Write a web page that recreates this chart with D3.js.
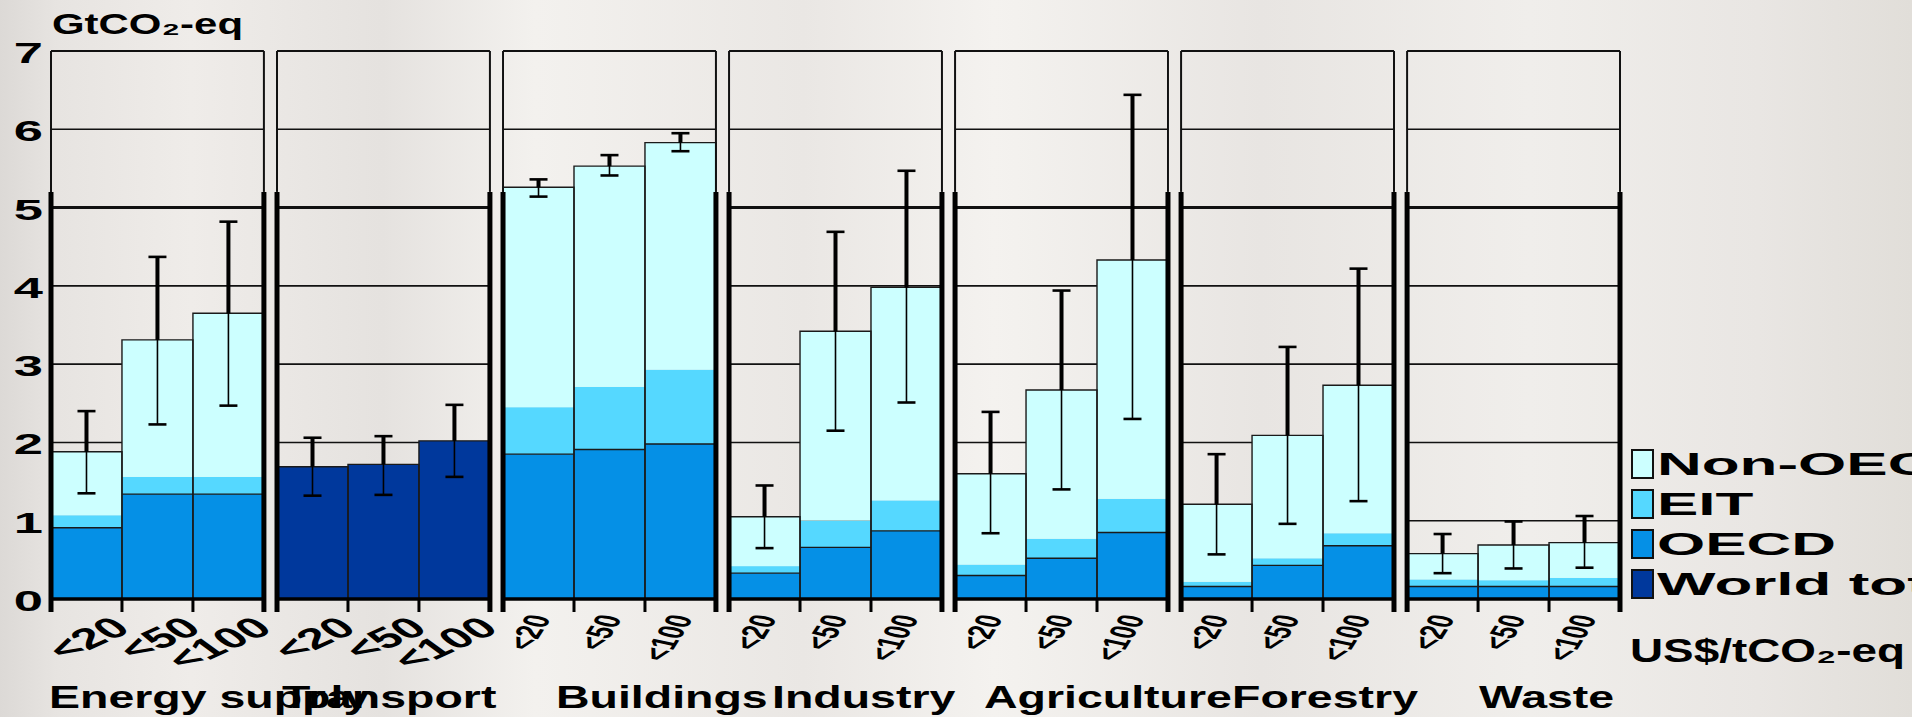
<!DOCTYPE html>
<html>
<head>
<meta charset="utf-8">
<script src="https://cdn.jsdelivr.net/npm/d3@7"></script>
<style>
  html, body { margin: 0; padding: 0; background: #ebe8e5; overflow: hidden; }
  svg { display: block; }
  text { font-family: "Liberation Sans", Arial, sans-serif; font-weight: bold; fill: #000; }
</style>
</head>
<body>
<svg width="1912" height="717"></svg>
<script>
const sectors = ["Energy supply", "Transport", "Buildings", "Industry", "Agriculture", "Forestry", "Waste"];
const costLabels = ["<20", "<50", "<100"];

// GtCO2-eq per sector, one value per cost class
const oecd       = [[0.91, 1.34, 1.34], [0, 0, 0], [1.85, 1.91, 1.98], [0.33, 0.66, 0.87], [0.30, 0.52, 0.85], [0.16, 0.43, 0.68], [0.16, 0.16, 0.16]];
const eit        = [[0.16, 0.22, 0.22], [0, 0, 0], [0.60, 0.80, 0.95], [0.09, 0.34, 0.39], [0.14, 0.25, 0.43], [0.06, 0.09, 0.16], [0.09, 0.08, 0.11]];
const nonOecd    = [[0.81, 1.75, 2.09], [0, 0, 0], [2.81, 2.82, 2.90], [0.63, 2.42, 2.72], [1.16, 1.90, 3.05], [0.99, 1.57, 1.89], [0.33, 0.45, 0.45]];
const worldTotal = [[0, 0, 0], [1.69, 1.72, 2.02], [0, 0, 0], [0, 0, 0], [0, 0, 0], [0, 0, 0], [0, 0, 0]];
const errLow     = [[1.35, 2.23, 2.47], [1.32, 1.33, 1.56], [5.14, 5.41, 5.72], [0.65, 2.15, 2.51], [0.84, 1.40, 2.30], [0.57, 0.96, 1.25], [0.33, 0.39, 0.40]];
const errHigh    = [[2.40, 4.37, 4.82], [2.06, 2.08, 2.48], [5.36, 5.67, 5.95], [1.45, 4.69, 5.47], [2.39, 3.94, 6.44], [1.85, 3.22, 4.22], [0.83, 0.99, 1.06]];

const legendLabels = ["Non-OECD/EIT", "EIT", "OECD", "World total"];
const yTicks = [0, 1, 2, 3, 4, 5, 6, 7];

const keys = ["world", "oecd", "eit", "nonOecd"];
const color = d3.scaleOrdinal().domain(keys).range(["#00389c", "#0590e6", "#55d8ff", "#ccffff"]);

const rows = sectors.flatMap((s, i) => costLabels.map((c, j) => ({
  sector: s, cost: c,
  world: worldTotal[i][j], oecd: oecd[i][j], eit: eit[i][j], nonOecd: nonOecd[i][j],
  lo: errLow[i][j], hi: errHigh[i][j]
})));
rows.forEach(d => d.total = d.world + d.oecd + d.eit + d.nonOecd);

const svg = d3.select("svg");
const stretch = 1.75;   // the picture's type is drawn wide

// scanned-looking paper background
const grad = svg.append("defs").append("linearGradient").attr("id", "paper");
[["0", "#dcd9d6"], ["0.03", "#e7e4e1"], ["0.1", "#efece9"], ["0.2", "#e5e2df"], ["0.28", "#f3f1ee"],
 ["0.42", "#eae7e4"], ["0.52", "#f4f2ef"], ["0.66", "#e8e5e2"], ["0.8", "#f0eeeb"], ["0.92", "#e9e6e3"], ["1", "#e1ded9"]]
  .forEach(([o, c]) => grad.append("stop").attr("offset", o).attr("stop-color", c));
svg.append("rect").attr("width", 1912).attr("height", 717).attr("fill", "url(#paper)");

const x = d3.scaleBand().domain(sectors).range([51, 1620]).paddingInner(0.058);
const sub = d3.scaleBand().domain(costLabels).range([0, x.bandwidth()]);
const y = d3.scaleLinear().domain([0, 7]).range([599, 51]);
const bw = sub.bandwidth();

const stacked = d3.stack().keys(keys)(rows);

// y axis labels
svg.append("g")
  .attr("transform", "translate(46,0)")
  .call(d3.axisLeft(y).tickValues(yTicks).tickSize(0).tickFormat(d3.format("d")))
  .call(g => g.select(".domain").remove())
  .selectAll("text")
  .attr("x", 0).attr("dy", null)
  .attr("dominant-baseline", "central")
  .attr("text-anchor", "end")
  .attr("transform", `translate(-3,1) scale(${stretch},1)`)
  .style("font-size", "30px");

const panels = svg.selectAll(".panel")
  .data(sectors)
  .join("g")
  .attr("class", "panel")
  .attr("transform", d => `translate(${x(d)},0)`);

// grid lines
panels.selectAll(".grid")
  .data(yTicks.filter(v => v > 0 && v < 7))
  .join("line")
  .attr("x1", 0).attr("x2", x.bandwidth())
  .attr("y1", d => y(d)).attr("y2", d => y(d))
  .attr("stroke", "#111")
  .attr("stroke-width", d => d === 5 ? 3 : 1.6);

// stacked bars
stacked.forEach(layer => {
  panels.selectAll(`.seg-${layer.key}`)
    .data(s => layer.filter(p => p.data.sector === s && p[1] - p[0] > 0))
    .join("rect")
    .attr("class", `seg-${layer.key}`)
    .attr("x", p => sub(p.data.cost))
    .attr("width", bw)
    .attr("y", p => y(p[1]))
    .attr("height", p => y(p[0]) - y(p[1]))
    .attr("fill", color(layer.key));
});

const panelRows = s => rows.filter(d => d.sector === s);

// bar outlines and OECD top edge
panels.selectAll(".outline")
  .data(panelRows)
  .join("path")
  .attr("fill", "none")
  .attr("stroke", "#1a1a1a")
  .attr("stroke-width", 1.4)
  .attr("d", d => `M${sub(d.cost)},${y(0)}V${y(d.total)}H${sub(d.cost) + bw}V${y(0)}`);

panels.selectAll(".oecdTop")
  .data(s => panelRows(s).filter(d => d.oecd > 0))
  .join("line")
  .attr("x1", d => sub(d.cost)).attr("x2", d => sub(d.cost) + bw)
  .attr("y1", d => y(d.oecd)).attr("y2", d => y(d.oecd))
  .attr("stroke", "#1a1a1a").attr("stroke-width", 1.4);

// error bars
const err = panels.selectAll(".err")
  .data(panelRows)
  .join("g")
  .attr("transform", d => `translate(${sub(d.cost) + bw / 2},0)`);
err.append("line")
  .attr("y1", d => y(d.lo)).attr("y2", d => y(d.hi))
  .attr("stroke", "#000").attr("stroke-width", 1.6);
err.filter(d => d.hi > d.total).append("line")
  .attr("y1", d => y(Math.max(d.total, d.lo))).attr("y2", d => y(d.hi))
  .attr("stroke", "#000").attr("stroke-width", 4);
err.selectAll(".cap")
  .data(d => [d.lo, d.hi])
  .join("line")
  .attr("x1", -9).attr("x2", 9)
  .attr("y1", v => y(v)).attr("y2", v => y(v))
  .attr("stroke", "#000").attr("stroke-width", 2.6);

// panel frame
panels.append("line")
  .attr("x1", 0).attr("x2", x.bandwidth())
  .attr("y1", y(7)).attr("y2", y(7))
  .attr("stroke", "#111").attr("stroke-width", 1.8);
panels.append("line")
  .attr("x1", 0).attr("x2", x.bandwidth())
  .attr("y1", y(0)).attr("y2", y(0))
  .attr("stroke", "#000").attr("stroke-width", 3.5);
panels.selectAll(".edgeThin")
  .data([0, x.bandwidth()])
  .join("line")
  .attr("x1", d => d).attr("x2", d => d)
  .attr("y1", y(7)).attr("y2", y(5.2))
  .attr("stroke", "#111").attr("stroke-width", 2);
panels.selectAll(".edgeThick")
  .data([0, x.bandwidth()])
  .join("line")
  .attr("x1", d => d).attr("x2", d => d)
  .attr("y1", y(5.2)).attr("y2", y(0) + 13)
  .attr("stroke", "#000").attr("stroke-width", 5);
panels.selectAll(".tick-mark")
  .data([bw, 2 * bw])
  .join("line")
  .attr("x1", d => d).attr("x2", d => d)
  .attr("y1", y(0)).attr("y2", y(0) + 13)
  .attr("stroke", "#000").attr("stroke-width", 3);

// cost class labels
panels.append("g")
  .attr("transform", `translate(0,${y(0)})`)
  .each(function (s, i) {
    const big = i < 2;
    d3.select(this)
      .call(d3.axisBottom(sub).tickSize(0))
      .call(g => g.select(".domain").remove())
      .selectAll("text")
      .attr("y", 0).attr("dy", null)
      .attr("text-anchor", "end")
      .attr("transform", big
        ? `translate(46,32) scale(${stretch},1) rotate(-38)`
        : `translate(13,19) scale(${stretch},1) rotate(-70)`)
      .style("font-size", big ? "29px" : "21px");
  });

// sector names
const nameX = [49, 282, 556, 772, 984, 1232, 1479];
svg.selectAll(".sector-name")
  .data(sectors)
  .join("text")
  .attr("class", "sector-name")
  .attr("transform", (d, i) => `translate(${nameX[i]},708) scale(1.5,1)`)
  .style("font-size", "31px")
  .text(d => d);

// unit title
svg.append("text")
  .attr("x", 52).attr("y", 34)
  .attr("textLength", 191).attr("lengthAdjust", "spacingAndGlyphs")
  .style("font-size", "30px")
  .text("GtCO₂-eq");

// legend
const legend = svg.selectAll(".legend")
  .data(legendLabels)
  .join("g")
  .attr("class", "legend")
  .attr("transform", (d, i) => `translate(1632,${464 + i * 40})`);
legend.append("rect")
  .attr("x", 0).attr("y", -14).attr("width", 21).attr("height", 28)
  .attr("fill", (d, i) => color(["nonOecd", "eit", "oecd", "world"][i]))
  .attr("stroke", "#111").attr("stroke-width", 2);
legend.append("text")
  .attr("transform", `translate(25,0) scale(2,1)`)
  .attr("dominant-baseline", "central")
  .style("font-size", "31px")
  .text(d => d);

svg.append("text")
  .attr("x", 1630).attr("y", 662)
  .attr("textLength", 275).attr("lengthAdjust", "spacingAndGlyphs")
  .style("font-size", "34px")
  .text("US$/tCO₂-eq");
</script>
</body>
</html>
